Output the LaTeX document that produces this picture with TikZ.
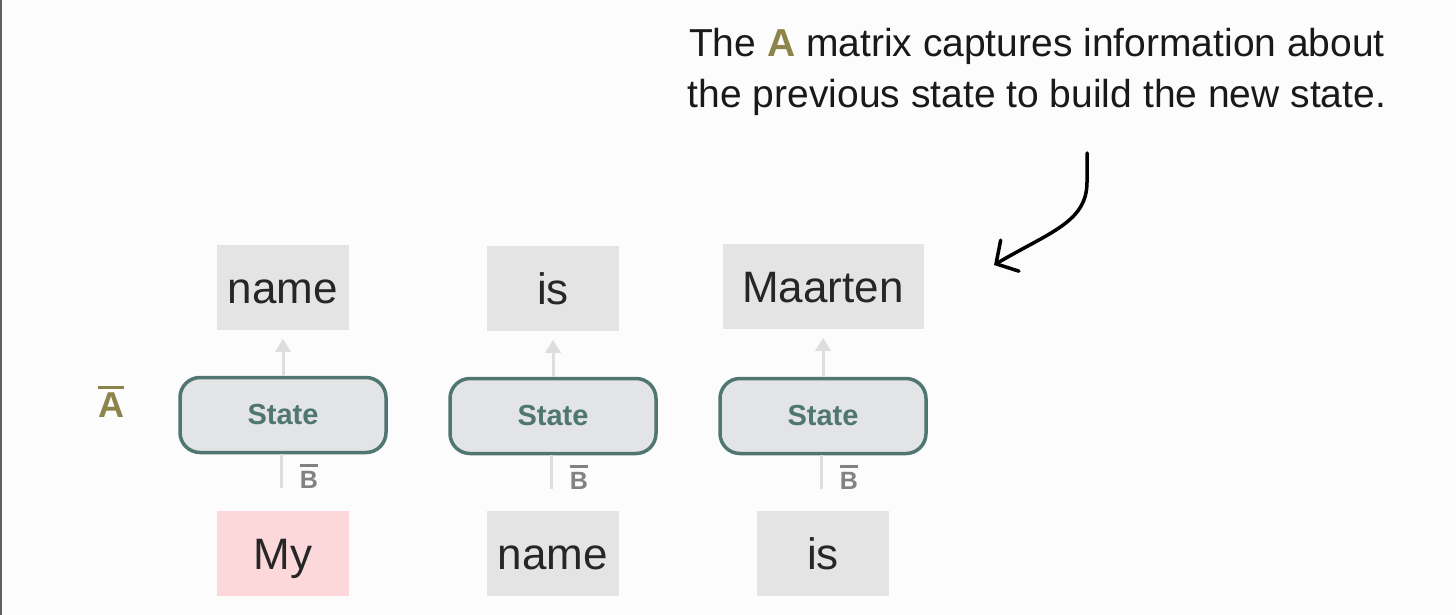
\documentclass[tikz,border=0pt]{standalone}
\usepackage{fontspec}
\setmainfont{Liberation Sans}
\usepackage{tikz}
\usetikzlibrary{arrows.meta,calc}
\usetikzlibrary{positioning}
\definecolor{clrBack}{RGB}{252,252,252}
\definecolor{clrEdge}{RGB}{96,96,96}
\definecolor{clrToken}{RGB}{228,228,228}
\definecolor{clrFirst}{RGB}{252,216,218}
\definecolor{clrState}{RGB}{80,118,113}
\definecolor{clrStateFill}{RGB}{227,228,230}
\definecolor{clrMatA}{RGB}{140,132,74}
\definecolor{clrMatB}{RGB}{130,130,130}
\definecolor{clrLink}{RGB}{222,222,222}
\newcommand{\barletter}[2]{\setbox0\hbox{#2}\vbox{\hrule height #1 width \wd0 \kern 4pt \box0}}
\tikzstyle{token}=[fill=clrToken, anchor=center, text centered, text=black!85,
font=\fontsize{44}{48}\selectfont, minimum width=132pt, minimum height=85pt, inner xsep=11pt,
text height=32pt, text depth=0pt]
\tikzstyle{first}=[token, fill=clrFirst]
\tikzstyle{statebox}=[draw=clrState, line width=3.5pt, rounded corners=20pt, fill=clrStateFill,
text=clrState, font=\fontsize{29}{32}\selectfont\bfseries, minimum width=206pt, minimum height=75pt]
\tikzstyle{link}=[-{Triangle[width=15pt,length=13pt]}, draw=clrLink, line width=3pt, shorten >=9pt]
\tikzstyle{feed}=[draw=clrLink, line width=3pt]
\tikzstyle{matB}=[text=clrMatB, font=\fontsize{25}{27}\selectfont\bfseries]
\tikzstyle{note}=[align=center, font=\fontsize{39}{51}\selectfont, text=black!90]
\tikzstyle{myarrow}=[-{Straight Barb[length=16pt,width=36pt,line cap=round]}, line width=3.5pt, line cap=round]

\begin{document}
\begin{tikzpicture}[x=1pt, y=-1pt]
		\fill[clrBack] (0,0) rectangle (1456,615) ;
		\fill[clrEdge] (0,0) rectangle (2,615) ;
		\useasboundingbox (0,0) rectangle (1456,615) ;

		% three steps of the recurrence
		\node[statebox] (S1) at (283,415) {State} ;
		\node[statebox] (S2) at (553,416) {State} ;
		\node[statebox] (S3) at (823,416) {State} ;

		\node[token, above=46pt of S1] (O1) {name} ;
		\node[token, above=46pt of S2] (O2) {is} ;
		\node[token, minimum width=201pt, above=48pt of S3] (O3) {Maarten} ;

		\node[first, below=57pt of S1] (I1) {My} ;
		\node[token, below=56pt of S2] (I2) {name} ;
		\node[token, below=56pt of S3] (I3) {is} ;

		\draw[link] (S1) -- (O1) ;
		\draw[link] (S2) -- (O2) ;
		\draw[link] (S3) -- (O3) ;

		\coordinate (F1) at ($(S1.south)+(-2,34)$) ;
		\coordinate (F2) at ($(S2.south)+(-2,34)$) ;
		\coordinate (F3) at ($(S3.south)+(-2,34)$) ;
		\draw[feed] (S1.south -| F1) -- (F1) ;
		\draw[feed] (S2.south -| F2) -- (F2) ;
		\draw[feed] (S3.south -| F3) -- (F3) ;

		\node[matB] (B1) at ($(F1)+(28,-12)$) {\barletter{2.5pt}{B}} ;
		\node[matB] (B2) at ($(F2)+(28,-12)$) {\barletter{2.5pt}{B}} ;
		\node[matB] (B3) at ($(F3)+(28,-12)$) {\barletter{2.5pt}{B}} ;

		\node[text=clrMatA, font=\fontsize{36}{38}\selectfont\bfseries] (A) at (111,402) {\barletter{3pt}{A}} ;

		% annotation
		\node[note] (N) at (1037,72) {The {\bfseries\color{clrMatA}A} matrix captures information about\\the previous state to build the new state.} ;
		\coordinate (arrS) at (1087,153) ;
		\coordinate (arrE) at (994,265) ;
		\draw[myarrow] (arrS) -- (1087,182) .. controls (1087,222) and (1050,232) .. (arrE) ;

	\end{tikzpicture}
\end{document}
